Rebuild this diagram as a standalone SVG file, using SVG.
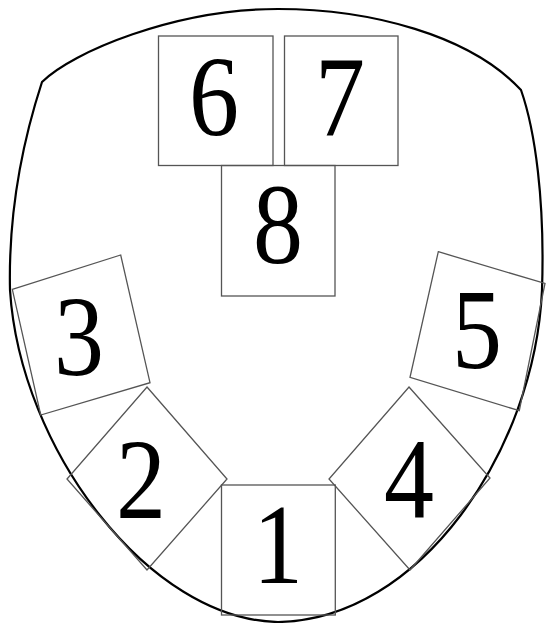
<svg xmlns="http://www.w3.org/2000/svg" width="546" height="623" viewBox="0 0 546 623">
<style>
.outline{fill:none;stroke:#000;stroke-width:2.2}
.box{fill:none;stroke:#555;stroke-width:1.3}
.num{font-family:"Liberation Serif","Times New Roman",serif;font-size:100px;text-anchor:middle;fill:#000}
</style>
<rect width="546" height="623" fill="#fff"/>
<g id="outline">
<path class="outline" d="M42,82 C72,52 175,9 278,9 C370,9 470,35 521,90 C535,130 545,200 542,290 C535,450 420,620 278,622 C150,620 20,450 10,290 C8,200 28,125 42,82 Z"/>
</g>
<g id="connectors"></g>
<g id="node6"><rect class="box" x="158.5" y="36" width="114.5" height="129.5"/><text class="num" transform="translate(214,135) scale(1,1.14)">6</text></g>
<g id="node7"><rect class="box" x="284.5" y="36" width="113.5" height="129.5"/><text class="num" transform="translate(340,135) scale(1,1.14)">7</text></g>
<g id="node8"><rect class="box" x="221.5" y="165.5" width="113.5" height="130.5"/><text class="num" transform="translate(278,263) scale(1,1.14)">8</text></g>
<g id="node3"><polygon class="box" points="12.3,289.3 120.7,255 150,382.7 40.7,415"/><text class="num" transform="translate(79,375) scale(1,1.14)">3</text></g>
<g id="node5"><polygon class="box" points="438.3,251.7 545,283.5 519.3,410.7 410,377.3"/><text class="num" transform="translate(477,368) scale(1,1.14)">5</text></g>
<g id="node2"><polygon class="box" points="147,387 227,479 147,570 67,479"/><text class="num" transform="translate(141,518) scale(1,1.14)">2</text></g>
<g id="node4"><polygon class="box" points="409,387 490,478 410,570 329,479"/><text class="num" transform="translate(409,518) scale(1,1.14)">4</text></g>
<g id="node1"><rect class="box" x="221.5" y="485" width="113.8" height="130"/><text class="num" transform="translate(278,583) scale(1,1.14)">1</text></g>
</svg>
